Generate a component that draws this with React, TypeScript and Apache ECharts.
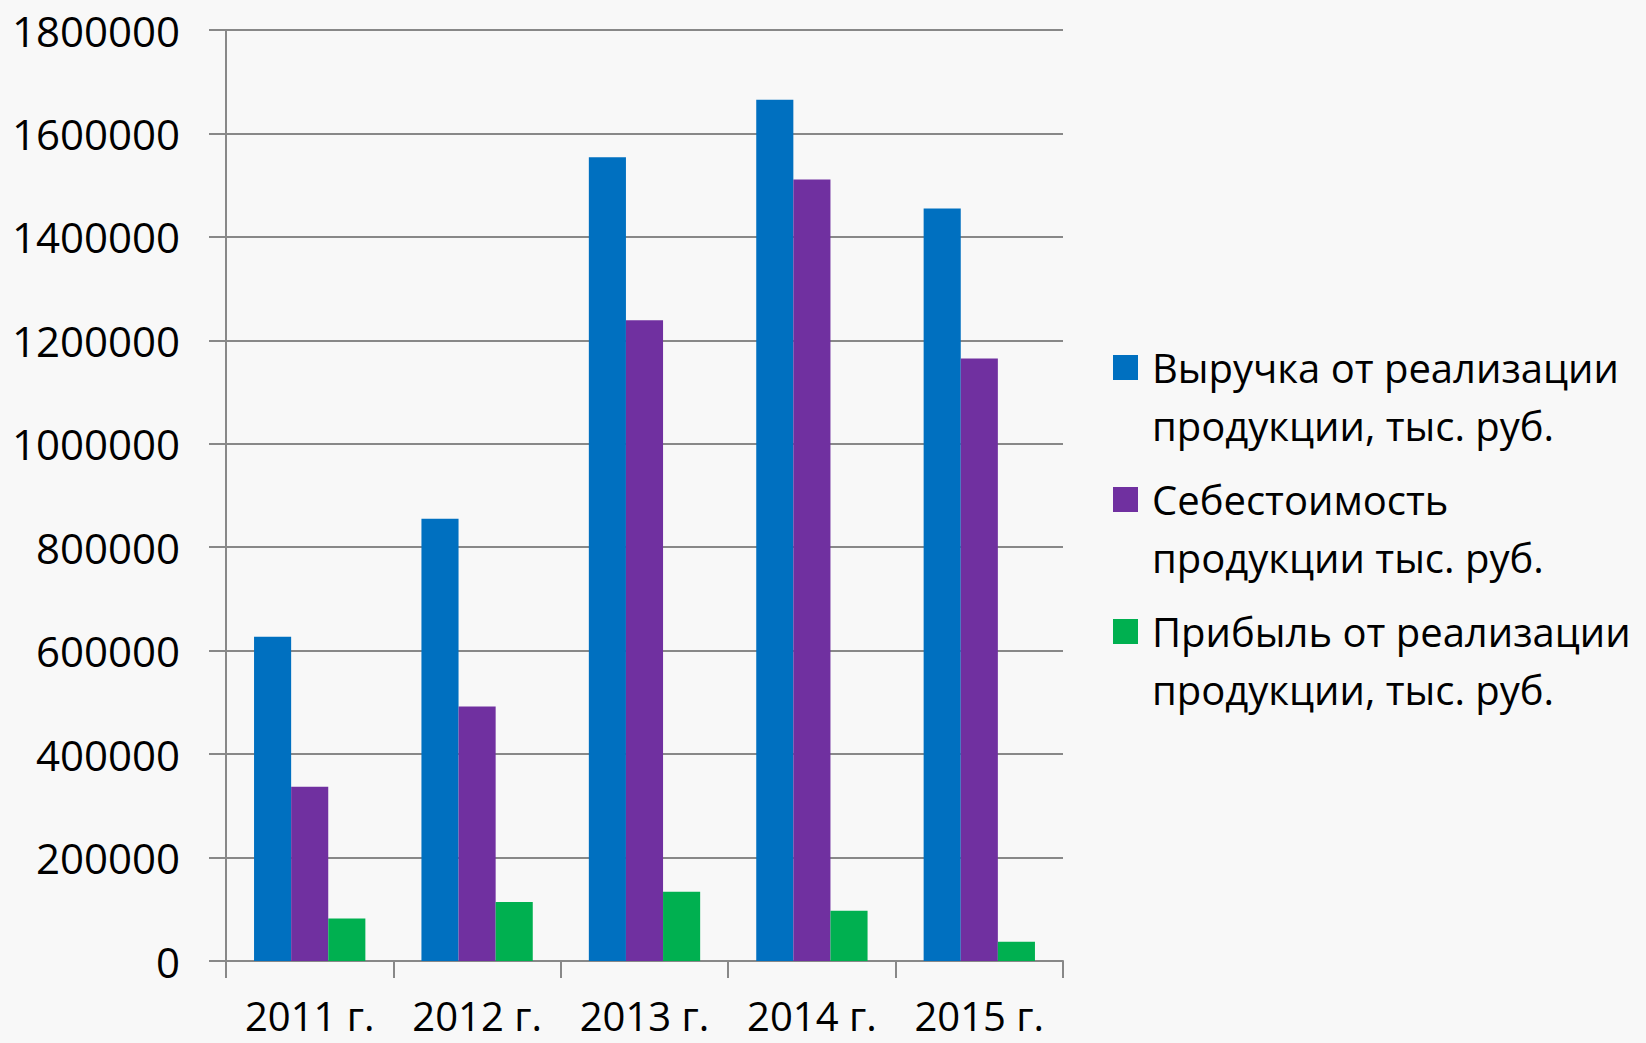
import React, { useEffect, useRef } from "react";
import * as echarts from "echarts";

const categories = ["2011 г.", "2012 г.", "2013 г.", "2014 г.", "2015 г."];
const seriesNames = [
  "Выручка от реализации\nпродукции, тыс. руб.",
  "Себестоимость\nпродукции тыс. руб.",
  "Прибыль от реализации\nпродукции, тыс. руб.",
];
const revenue = [627000, 855000, 1554000, 1665000, 1455000];
const cost = [337000, 492000, 1239000, 1511000, 1165000];
const profit = [82000, 114000, 134000, 97000, 37000];
const colors = ["#0070C0", "#7030A0", "#00B050"];

const FONT = "'Open Sans', 'Noto Sans', sans-serif";

export default function App() {
  const ref = useRef<HTMLDivElement>(null);
  useEffect(() => {
    document.body.style.margin = "0";
    if (!ref.current) return;
    const chart = echarts.init(ref.current, null, { renderer: "svg" });
    const values = [revenue, cost, profit];
    const legendGraphics: any[] = [];
    seriesNames.forEach((name, i) => {
      const top = 355 + i * 132;
      legendGraphics.push({
        type: "rect",
        left: 1113,
        top: top,
        shape: { width: 25, height: 25 },
        style: { fill: colors[i] },
      });
      legendGraphics.push({
        type: "text",
        left: 1152,
        top: top - 17,
        style: {
          text: name,
          font: `40px ${FONT}`,
          fill: "#000",
          lineHeight: 58,
        },
      });
    });
    chart.setOption({
      animation: false,
      backgroundColor: "#f8f8f8",
      grid: {
        left: 226,
        right: 583,
        top: 30,
        bottom: 82,
        containLabel: false,
        outerBoundsMode: "none",
      },
      xAxis: {
        type: "category",
        data: categories,
        axisLine: { lineStyle: { color: "#888", width: 2 } },
        axisTick: { show: true, interval: 0, length: 17, lineStyle: { color: "#888", width: 2 } },
        axisLabel: {
          color: "#000",
          fontSize: 40,
          fontFamily: FONT,
          margin: 34,
          lineHeight: 40,
          interval: 0,
        },
      },
      yAxis: {
        type: "value",
        min: 0,
        max: 1800000,
        interval: 200000,
        axisLine: { show: true, lineStyle: { color: "#888", width: 2 } },
        axisTick: { show: true, length: 17, lineStyle: { color: "#888", width: 2 } },
        splitLine: { lineStyle: { color: "#888", width: 2 } },
        axisLabel: {
          color: "#000",
          fontSize: 42,
          fontFamily: FONT,
          margin: 46,
          formatter: (v: number) => String(v),
        },
      },
      series: seriesNames.map((name, i) => ({
        name,
        type: "bar",
        data: values[i],
        itemStyle: { color: colors[i] },
        barGap: "0%",
        barCategoryGap: "33.5%",
      })),
      graphic: legendGraphics,
    });
    return () => chart.dispose();
  }, []);
  return <div ref={ref} style={{ width: 1646, height: 1043 }} />;
}
